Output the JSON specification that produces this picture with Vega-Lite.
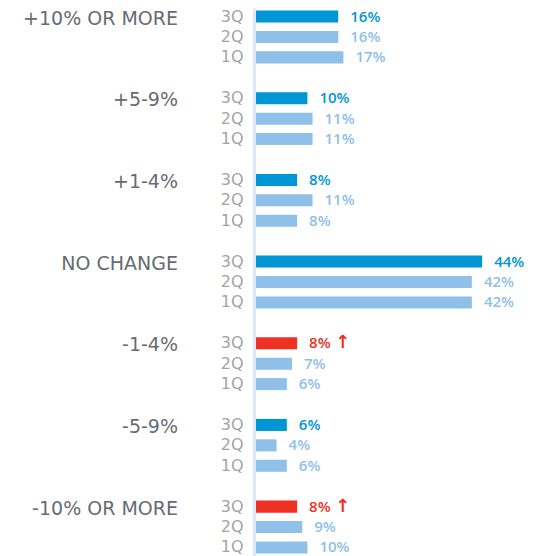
{
  "$schema": "https://vega.github.io/schema/vega-lite/v6.json",
  "width": 257,
  "height": 548,
  "autosize": {"type": "none"},
  "padding": {"left": 256, "top": 8, "right": 25, "bottom": 0},
  "background": "white",
  "config": {"view": {"stroke": null}},
  "data": {"values": [
    {"cat": "+10% OR MORE", "q": "3Q", "row": "+10% OR MORE|3Q", "value": 16, "up": false},
    {"cat": "+10% OR MORE", "q": "2Q", "row": "+10% OR MORE|2Q", "value": 16, "up": false},
    {"cat": "+10% OR MORE", "q": "1Q", "row": "+10% OR MORE|1Q", "value": 17, "up": false},
    {"cat": "+5-9%", "q": "3Q", "row": "+5-9%|3Q", "value": 10, "up": false},
    {"cat": "+5-9%", "q": "2Q", "row": "+5-9%|2Q", "value": 11, "up": false},
    {"cat": "+5-9%", "q": "1Q", "row": "+5-9%|1Q", "value": 11, "up": false},
    {"cat": "+1-4%", "q": "3Q", "row": "+1-4%|3Q", "value": 8, "up": false},
    {"cat": "+1-4%", "q": "2Q", "row": "+1-4%|2Q", "value": 11, "up": false},
    {"cat": "+1-4%", "q": "1Q", "row": "+1-4%|1Q", "value": 8, "up": false},
    {"cat": "NO CHANGE", "q": "3Q", "row": "NO CHANGE|3Q", "value": 44, "up": false},
    {"cat": "NO CHANGE", "q": "2Q", "row": "NO CHANGE|2Q", "value": 42, "up": false},
    {"cat": "NO CHANGE", "q": "1Q", "row": "NO CHANGE|1Q", "value": 42, "up": false},
    {"cat": "-1-4%", "q": "3Q", "row": "-1-4%|3Q", "value": 8, "up": true},
    {"cat": "-1-4%", "q": "2Q", "row": "-1-4%|2Q", "value": 7, "up": false},
    {"cat": "-1-4%", "q": "1Q", "row": "-1-4%|1Q", "value": 6, "up": false},
    {"cat": "-5-9%", "q": "3Q", "row": "-5-9%|3Q", "value": 6, "up": false},
    {"cat": "-5-9%", "q": "2Q", "row": "-5-9%|2Q", "value": 4, "up": false},
    {"cat": "-5-9%", "q": "1Q", "row": "-5-9%|1Q", "value": 6, "up": false},
    {"cat": "-10% OR MORE", "q": "3Q", "row": "-10% OR MORE|3Q", "value": 8, "up": true},
    {"cat": "-10% OR MORE", "q": "2Q", "row": "-10% OR MORE|2Q", "value": 9, "up": false},
    {"cat": "-10% OR MORE", "q": "1Q", "row": "-10% OR MORE|1Q", "value": 10, "up": false}
  ]},
  "encoding": {
    "y": {
      "field": "row",
      "type": "ordinal",
      "sort": null,
      "scale": {
        "domain": [
          "+10% OR MORE|3Q", "+10% OR MORE|2Q", "+10% OR MORE|1Q", "gap1",
          "+5-9%|3Q", "+5-9%|2Q", "+5-9%|1Q", "gap2",
          "+1-4%|3Q", "+1-4%|2Q", "+1-4%|1Q", "gap3",
          "NO CHANGE|3Q", "NO CHANGE|2Q", "NO CHANGE|1Q", "gap4",
          "-1-4%|3Q", "-1-4%|2Q", "-1-4%|1Q", "gap5",
          "-5-9%|3Q", "-5-9%|2Q", "-5-9%|1Q", "gap6",
          "-10% OR MORE|3Q", "-10% OR MORE|2Q", "-10% OR MORE|1Q"
        ],
        "paddingInner": 0.41,
        "paddingOuter": 0.124
      },
      "axis": {
        "title": null,
        "ticks": false,
        "offset": 2,
        "domainColor": "#dde9f6",
        "domainWidth": 3,
        "labelPadding": 11,
        "labelFontSize": 16,
        "labelFont": "DejaVu Sans",
        "labelFontWeight": "normal",
        "labelColor": "#a3a3a3",
        "labelExpr": "indexof(datum.value, '|') >= 0 ? split(datum.value, '|')[1] : ''"
      }
    },
    "color": {
      "condition": {"test": "datum.up", "value": "#ee3124"},
      "field": "q",
      "type": "nominal",
      "scale": {"domain": ["3Q", "2Q", "1Q"], "range": ["#0096d6", "#8fc0e9", "#8fc0e9"]},
      "legend": null
    }
  },
  "layer": [
    {
      "mark": {"type": "bar"},
      "encoding": {
        "x": {"field": "value", "type": "quantitative", "scale": {"domain": [0, 50]}, "axis": null}
      }
    },
    {
      "mark": {"type": "text", "align": "left", "baseline": "middle", "dx": 12, "fontSize": 15, "fontWeight": 600, "font": "Open Sans", "text": {"expr": "datum.value + '%'"}},
      "encoding": {
        "x": {"field": "value", "type": "quantitative"}
      }
    },
    {
      "transform": [{"filter": "datum.up"}],
      "mark": {"type": "text", "align": "left", "baseline": "middle", "dx": 38, "fontSize": 18, "fontWeight": "bold", "font": "DejaVu Sans", "text": "↑"},
      "encoding": {
        "x": {"field": "value", "type": "quantitative"}
      }
    },
    {
      "transform": [{"filter": "datum.q == '3Q'"}],
      "mark": {"type": "text", "align": "right", "baseline": "middle", "dx": -78, "dy": 2, "fontSize": 19, "fontWeight": "normal", "font": "DejaVu Sans"},
      "encoding": {
        "x": {"datum": 0, "type": "quantitative"},
        "text": {"field": "cat"},
        "color": {"value": "#666b72"}
      }
    }
  ]
}
